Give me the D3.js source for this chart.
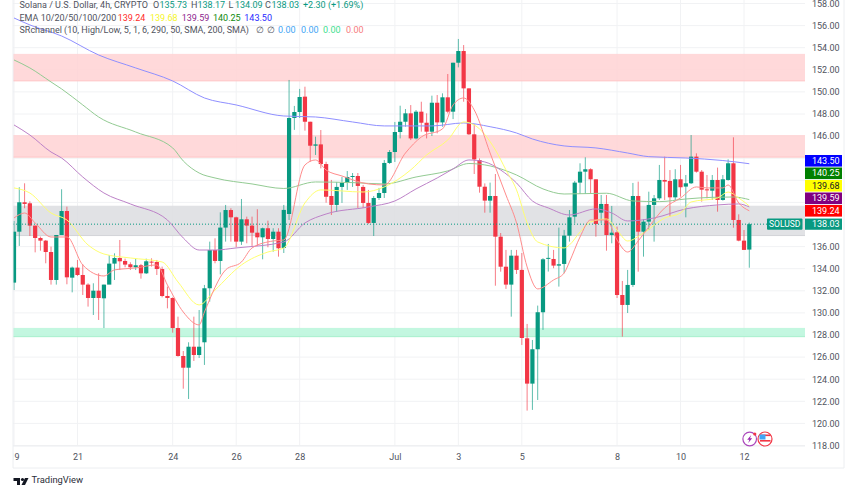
<!DOCTYPE html>
<html>
<head>
<meta charset="utf-8">
<style>
  html, body { margin: 0; padding: 0; background: #fff; overflow: hidden; }
  text { font-family: Roboto, sans-serif; }
</style>
<script src="https://cdn.jsdelivr.net/npm/d3@7"></script>
</head>
<body>
<svg id="chart" width="852" height="485"></svg>
<script>
const opens = [132.74,137.35,140.01,139.92,137.90,136.78,136.54,135.51,132.98,137.05,139.22,133.19,134.10,133.43,132.56,131.35,132.01,131.32,132.56,134.46,134.97,134.70,134.40,134.13,134.31,133.58,134.64,134.61,133.97,131.53,131.35,128.63,126.10,125.04,126.94,126.19,127.34,132.23,135.69,134.70,137.72,139.31,138.65,136.45,138.47,137.90,137.26,136.84,137.66,136.69,137.35,135.88,138.95,147.64,148.18,149.57,147.30,145.13,145.25,143.47,140.58,139.77,141.40,141.76,142.30,142.39,141.40,139.95,138.14,140.40,140.85,143.57,144.56,146.37,147.30,148.06,145.79,148.21,147.21,146.40,149.02,147.24,149.51,148.21,152.64,153.70,150.32,146.16,143.83,141.42,140.16,140.58,136.90,134.18,132.56,135.18,133.89,127.70,123.60,126.71,130.06,134.92,134.88,134.28,134.43,136.99,138.71,141.79,142.78,143.00,142.09,139.07,139.86,137.05,137.29,131.62,130.72,132.53,140.58,137.35,138.26,139.77,140.37,142.03,141.94,140.46,142.09,141.43,141.73,144.14,142.78,141.18,141.06,142.03,140.22,142.03,143.54,138.41,136.54,135.73];
const highs = [138.32,141.37,141.73,140.10,137.90,136.90,136.60,136.00,137.05,141.19,139.62,134.19,134.79,134.40,132.68,132.68,133.58,132.56,135.24,135.39,136.60,134.91,134.58,134.88,134.43,134.91,134.94,134.79,134.19,132.38,131.41,129.66,126.55,127.34,129.66,130.26,132.53,136.45,136.75,139.10,139.77,139.47,138.71,140.31,138.71,138.71,139.38,137.72,138.35,137.66,137.66,139.77,151.08,148.73,150.27,150.47,147.30,145.95,146.55,143.68,142.03,141.85,142.30,142.84,142.66,142.66,141.58,141.13,140.58,141.31,143.84,144.74,147.28,148.75,148.45,148.81,148.36,149.11,148.06,149.66,149.72,149.87,151.62,152.64,154.79,154.24,150.32,147.09,143.98,141.72,141.79,142.57,137.23,135.70,135.70,135.70,135.42,129.00,127.55,130.66,134.95,136.24,135.70,137.72,137.51,139.31,141.94,143.54,144.08,143.09,142.09,140.67,140.67,139.68,137.81,132.89,133.89,141.76,141.88,138.47,140.97,140.67,143.39,144.14,142.93,143.00,143.39,142.48,146.10,144.44,142.93,142.48,142.48,143.15,142.48,143.90,145.89,138.92,137.50,138.17];
const lows = [132.07,136.06,139.47,136.96,135.48,135.63,134.49,132.56,132.56,137.05,132.59,131.86,133.34,131.62,130.57,129.81,129.36,128.63,132.98,132.98,133.88,134.13,133.88,133.88,133.10,133.52,134.19,133.43,131.41,130.41,128.21,126.04,123.14,122.21,125.65,125.92,125.29,131.02,134.49,133.49,136.45,136.45,135.94,136.15,136.30,136.06,136.06,134.85,135.94,135.54,135.09,135.42,138.41,146.56,147.64,146.49,143.68,144.29,143.08,139.97,138.86,139.13,139.95,141.13,141.40,139.50,139.50,138.05,136.96,140.22,140.40,143.48,143.66,145.79,146.85,145.64,145.70,146.40,145.79,146.01,146.25,146.85,148.06,147.54,152.22,149.11,146.10,142.57,140.88,139.07,139.07,132.46,133.73,132.17,129.66,133.52,127.10,121.16,121.22,122.12,128.46,133.74,134.04,132.38,133.59,136.45,138.11,140.76,140.76,140.76,136.90,138.11,135.63,136.30,131.35,127.85,129.99,132.35,133.73,135.09,137.50,136.45,140.22,140.22,138.71,140.22,140.52,138.65,141.67,142.69,140.07,140.37,140.22,139.16,140.16,141.97,137.71,136.48,135.70,134.09];
const closes = [137.35,140.01,139.86,137.90,136.78,136.54,135.51,132.98,137.05,139.22,133.22,134.10,133.43,132.56,131.35,132.01,131.35,132.56,134.46,134.97,134.67,134.37,134.13,134.31,133.58,134.67,134.58,133.97,131.53,131.35,128.63,126.10,125.04,126.94,126.19,126.94,132.23,135.69,134.70,137.72,139.31,138.65,136.45,138.47,137.90,137.26,136.84,137.66,136.69,137.35,135.85,139.32,147.64,148.18,149.54,147.30,145.13,145.25,143.47,140.51,139.77,141.40,141.76,142.30,142.39,141.49,139.95,138.14,140.40,140.85,143.57,144.56,146.37,147.30,148.06,145.79,148.21,147.21,146.40,149.02,147.24,149.51,148.21,152.64,153.70,150.32,146.16,143.89,141.42,140.16,140.58,136.90,134.18,132.56,135.18,133.89,127.73,123.60,126.71,130.06,134.85,134.98,134.28,134.40,137.00,138.65,141.79,142.78,143.00,142.09,138.05,139.86,137.05,137.26,131.62,130.72,132.53,140.58,137.35,138.26,139.77,140.37,142.03,141.88,140.46,142.09,141.37,141.73,144.14,142.78,141.15,141.09,142.03,140.22,142.09,143.54,138.41,136.54,135.70,138.03];

const ema200Bars = [0,3,9,16,23,30,36,42,51,57,64,70,79,85,90,95,98,104,110,116,120,127,134,139];
const ema200 = [156.69,156.06,155.06,153.34,152.17,150.99,149.45,148.82,147.82,147.73,147.28,146.92,146.92,147.19,146.85,146.28,145.74,145.11,144.93,144.47,144.14,144.02,143.79,143.50];
const ema100Bars = [0,3,7,9,13,16,23,30,32,35,38,45,51,57,64,70,76,82,86,90,95,100,104,112,117,122,127,132,136,139];
const ema100 = [152.89,152.17,150.90,150.27,148.82,147.73,146.37,144.93,143.75,142.66,142.21,141.67,141.26,141.85,141.79,141.67,142.30,142.85,143.52,143.30,142.48,141.22,140.76,140.83,140.13,140.07,140.31,140.46,140.49,140.25];
const ema50Bars = [0,3,7,9,13,17,22,29,32,35,38,42,51,55,59,67,72,76,80,83,86,89,92,95,98,101,105,110,113,116,121,127,133,137,139];
const ema50 = [147.01,146.10,144.56,144.02,142.30,140.85,139.86,138.41,136.78,135.69,135.69,135.88,136.42,138.14,138.95,139.59,140.13,141.22,142.21,143.03,143.84,143.66,142.93,141.76,140.13,139.50,138.86,139.41,139.04,138.32,138.59,139.41,139.77,139.86,139.59];
const ema20Bars = [0,3,7,10,14,17,22,28,31,35,38,43,48,51,55,58,66,70,75,78,82,85,87,91,93,95,97,99,104,105,107,109,112,114,116,119,123,126,128,133,135,137,139];
const ema20 = [141.31,140.85,139.04,138.41,136.15,135.33,134.97,134.61,132.80,130.72,132.07,134.34,135.51,135.88,139.95,141.13,140.94,141.40,142.94,144.29,145.65,147.28,147.01,144.75,142.94,141.13,138.14,136.42,135.88,136.15,137.32,138.23,138.50,137.50,136.51,137.23,138.59,139.04,140.04,140.40,140.94,140.40,139.68];
const ema10Bars = [0,2,4,7,10,13,17,19,23,27,29,32,35,36,40,43,45,49,51,55,57,59,62,67,70,74,77,81,83,85,87,90,93,95,97,99,102,104,105,107,109,112,114,116,118,120,123,126,129,131,134,135,137,139];
const ema10 = [138.59,139.04,138.14,136.87,136.87,134.34,133.34,133.89,134.07,134.34,132.53,130.08,128.91,130.08,133.89,134.61,135.88,136.51,136.60,143.39,143.84,142.93,142.39,141.67,141.58,144.47,145.92,146.65,148.82,149.45,148.37,144.47,140.67,138.14,134.16,132.17,132.98,133.61,134.61,136.87,138.41,138.41,136.60,135.51,136.51,137.78,139.50,140.40,141.40,141.31,141.31,141.58,139.95,139.24];

const bandTops = [153.44, 146.1, 139.7, 128.64];
const bandBottoms = [151.0, 144.1, 137.0, 127.85];
const bandFills = ['#ffd2d3', '#ffd2d3', '#dcdde1', '#b9f6da'];
const bandEdges = ['#ffc4c5', '#ffc4c5', '#d2d3d8', '#a6f0cc'];

const dateBars = [0,12,30,42,54,72,84,96,114,126,138];
const dateLabels = ['19','21','24','26','28','Jul','3','5','8','10','12'];
const priceTicks = d3.range(118, 159, 2);
// these sit behind the value tags on the price axis
const coveredPriceLabels = [144, 142, 140, 138];

const lastPrice = 138.03;
const tagValues = [143.50, 140.25, 139.68, 139.59, 139.24];
const tagFills = ['#0000ff', '#008000', '#ffff00', '#800080', '#ff0000'];
const tagTexts = ['#fff', '#fff', '#131722', '#fff', '#fff'];

const UP = '#089981', DOWN = '#f23645', TEXT = '#50535e', GRID = '#f1f2f4';
const LEFT = 13, RIGHT = 805, AXIS_Y = 446, BOTTOM = 468, EDGE = 844;

const svg = d3.select('#chart');
const x = d3.scaleLinear().domain([0, 139]).range([14, 749.3]);
const y = d3.scaleLinear().domain([118, 158]).range([445.5, 3.5]);

svg.append('defs').append('clipPath').attr('id', 'plot')
  .append('rect').attr('x', LEFT).attr('y', 0).attr('width', RIGHT - LEFT).attr('height', AXIS_Y);
svg.append('defs').append('clipPath').attr('id', 'frame')
  .append('rect').attr('x', LEFT).attr('y', 0).attr('width', EDGE - LEFT).attr('height', BOTTOM);

const plot = svg.append('g').attr('clip-path', 'url(#plot)');

// grid
plot.selectAll('.hgrid').data(priceTicks).join('line')
  .attr('x1', LEFT).attr('x2', RIGHT)
  .attr('y1', d => y(d)).attr('y2', d => y(d))
  .attr('stroke', GRID);
plot.selectAll('.vgrid').data(dateBars).join('line')
  .attr('x1', d => x(d)).attr('x2', d => x(d))
  .attr('y1', 0).attr('y2', AXIS_Y)
  .attr('stroke', GRID);

// support / resistance zones
bandTops.forEach((top, i) => {
  plot.append('rect')
    .attr('x', LEFT).attr('width', RIGHT - LEFT)
    .attr('y', y(top)).attr('height', y(bandBottoms[i]) - y(top))
    .attr('fill', bandFills[i]).attr('fill-opacity', 0.85);
  plot.append('line')
    .attr('x1', LEFT).attr('x2', RIGHT)
    .attr('y1', y(bandBottoms[i])).attr('y2', y(bandBottoms[i]))
    .attr('stroke', bandEdges[i]);
});

// candles
const candles = plot.selectAll('.candle').data(d3.range(opens.length)).join('g');
candles.append('line')
  .attr('x1', i => x(i)).attr('x2', i => x(i))
  .attr('y1', i => y(highs[i])).attr('y2', i => y(lows[i]))
  .attr('stroke', i => closes[i] >= opens[i] ? UP : DOWN)
  .attr('stroke-opacity', 0.65);
candles.append('rect')
  .attr('x', i => x(i) - 2.1).attr('width', 4.2)
  .attr('y', i => y(Math.max(opens[i], closes[i])))
  .attr('height', i => Math.max(1, Math.abs(y(opens[i]) - y(closes[i]))))
  .attr('fill', i => closes[i] >= opens[i] ? UP : DOWN);

// moving averages
const emaLine = (bars, values) => d3.line()
  .x(i => x(bars[i])).y(i => y(values[i]))
  .curve(d3.curveMonotoneX)(d3.range(bars.length));
[[ema200Bars, ema200, '#8f8fff'], [ema100Bars, ema100, '#93cb93'], [ema50Bars, ema50, '#bd82c8'],
 [ema20Bars, ema20, '#ffff70'], [ema10Bars, ema10, '#ff8c8c']].forEach(([bars, values, color]) => {
  plot.append('path').attr('d', emaLine(bars, values))
    .attr('fill', 'none').attr('stroke', color).attr('stroke-width', 1);
});

// last price line
svg.append('line')
  .attr('x1', LEFT).attr('x2', 768)
  .attr('y1', y(lastPrice)).attr('y2', y(lastPrice))
  .attr('stroke', UP).attr('stroke-dasharray', '1 2');

// axes
const xAxis = svg.append('g').attr('clip-path', 'url(#frame)')
  .append('g').attr('transform', `translate(0,${AXIS_Y})`)
  .call(d3.axisBottom(x).tickValues(dateBars).tickFormat((d, i) => dateLabels[i]).tickSize(0).tickPadding(8));
xAxis.select('.domain').attr('stroke', '#eceef1').attr('d', `M${LEFT},0H${RIGHT}`);
xAxis.selectAll('text').attr('fill', TEXT).attr('font-size', 9).attr('font-family', 'Roboto, sans-serif');

const yAxis = svg.append('g').attr('transform', `translate(${RIGHT},0)`)
  .call(d3.axisRight(y)
    .tickValues(priceTicks.filter(d => !coveredPriceLabels.includes(d)))
    .tickFormat(d3.format('.2f')).tickSize(0).tickPadding(7));
yAxis.select('.domain').remove();
yAxis.selectAll('text').attr('fill', TEXT).attr('font-size', 9).attr('font-family', 'Roboto, sans-serif');

// frame
svg.append('path').attr('d', `M${LEFT},0V${BOTTOM}H${EDGE}V0`)
  .attr('fill', 'none').attr('stroke', '#eceef1');

// stacked value tags on the price axis
const TAG_STEP = 12.5;
tagValues.forEach((v, i) => {
  const cy = y(tagValues[tagValues.length - 1]) - (tagValues.length - 1 - i) * TAG_STEP;
  svg.append('rect').attr('x', RIGHT).attr('y', cy - 5.8).attr('width', 37).attr('height', 11.6)
    .attr('fill', tagFills[i]);
  svg.append('text').attr('x', 812).attr('y', cy).attr('dy', '0.35em')
    .attr('font-size', 9).attr('fill', tagTexts[i]).text(v.toFixed(2));
});
svg.append('rect').attr('x', RIGHT).attr('y', y(lastPrice) - 5.6).attr('width', 37).attr('height', 11.2)
  .attr('fill', UP);
svg.append('text').attr('x', 812).attr('y', y(lastPrice)).attr('dy', '0.35em')
  .attr('font-size', 9).attr('fill', '#fff').text(lastPrice.toFixed(2));
svg.append('rect').attr('x', 767).attr('y', y(lastPrice) - 5.6).attr('width', 35.5).attr('height', 11.2)
  .attr('rx', 1).attr('fill', UP);
svg.append('text').attr('x', 784.7).attr('y', y(lastPrice)).attr('dy', '0.35em')
  .attr('text-anchor', 'middle').attr('font-size', 8.5).attr('fill', '#fff').text('SOLUSD');

// legend
function legendText(px, py, str, color) {
  svg.append('text').attr('x', px).attr('y', py).attr('dy', '0.35em')
    .attr('font-size', 9).attr('fill', color).text(str);
}
legendText(19.5, 5, 'Solana / U.S. Dollar, 4h, CRYPTO', TEXT);
[['O', '135.73', 153], ['H', '138.17', 191], ['L', '134.09', 228.5], ['C', '138.03', 265]].forEach(([k, v, px]) => {
  legendText(px, 5, k, TEXT);
  legendText(px + 6.5, 5, v, UP);
});
legendText(303, 5, '+2.30 (+1.69%)', UP);
legendText(19.5, 17.6, 'EMA 10/20/50/100/200', TEXT);
[['139.24', 117.7, '#ff2a2a'], ['139.68', 150, '#f5f52a'], ['139.59', 181.7, '#8e1f8e'],
 ['140.25', 213, '#0f8a0f'], ['143.50', 244.3, '#2a2aff']].forEach(([v, px, c]) => legendText(px, 17.6, v, c));
legendText(19.5, 30, 'SRchannel (10, High/Low, 5, 1, 6, 290, 50, SMA, 200, SMA)', TEXT);
legendText(256, 30, '∅', TEXT);
legendText(267, 30, '∅', TEXT);
[[278, '#42a5f5'], [301, '#42a5f5'], [323, '#3ee08f'], [346, '#f77c80']].forEach(([px, c]) => legendText(px, 30, '0.00', c));

// event icons
const icons = svg.append('g').attr('transform', 'translate(0,439)');
icons.append('circle').attr('cx', 749.7).attr('r', 6.8).attr('fill', '#fff').attr('stroke', '#ab47bc').attr('stroke-width', 1.2);
icons.append('path').attr('transform', 'translate(749.7,0)').attr('d', 'M1.5,-4L-2.5,0.8H-0.3L-1.5,4L2.5,-0.8H0.3Z').attr('fill', '#9c27b0');
icons.append('circle').attr('cx', 754.8).attr('cy', -5).attr('r', 1.6).attr('fill', DOWN);
icons.append('circle').attr('cx', 765).attr('r', 7).attr('fill', '#fff').attr('stroke', DOWN).attr('stroke-width', 1.2);
icons.append('rect').attr('x', 760).attr('y', -4.5).attr('width', 10.5).attr('height', 1.6).attr('fill', DOWN);
icons.append('rect').attr('x', 760).attr('y', 1).attr('width', 10.5).attr('height', 1.6).attr('fill', DOWN);
icons.append('rect').attr('x', 759.5).attr('y', -4.5).attr('width', 6).attr('height', 5).attr('fill', '#42a5f5');

// logo
const logo = svg.append('g').attr('fill', '#131722');
logo.append('path').attr('d', 'M13.5,478H20V485H17V481H13.5Z');
logo.append('circle').attr('cx', 22.5).attr('cy', 479.5).attr('r', 1.6);
logo.append('path').attr('d', 'M25,478H28.5L25,485H21.5Z');
svg.append('text').attr('x', 31.5).attr('y', 483).attr('font-size', 9.4).attr('fill', '#2a2e39').text('TradingView');
</script>
</body>
</html>
